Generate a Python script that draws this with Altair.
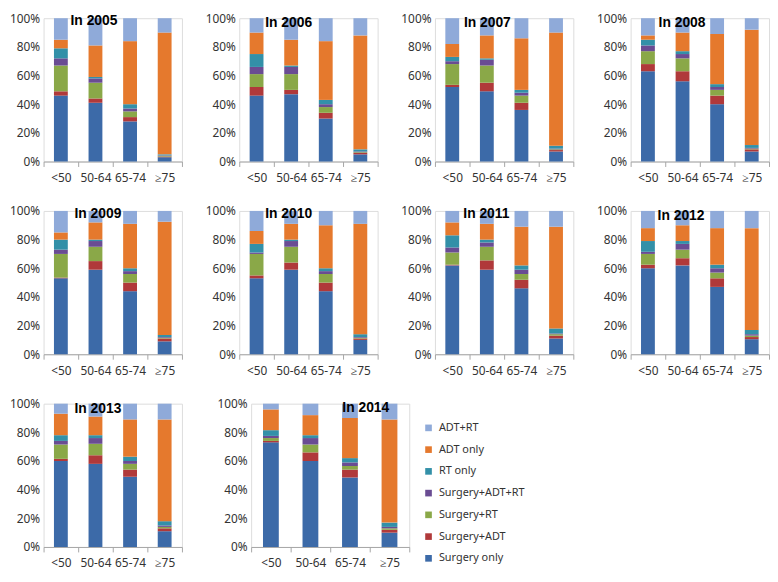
import altair as alt
import pandas as pd

ages = ["<50", "50-64", "65-74", "≥75"]
treatments = ["Surgery only", "Surgery+ADT", "Surgery+RT", "Surgery+ADT+RT",
              "RT only", "ADT only", "ADT+RT"]
colors = ["#3C6AA8", "#B0393A", "#8AA848", "#6A4C93", "#3390A8", "#E5792D", "#8FAAD9"]

years = [2005, 2006, 2007, 2008, 2009, 2010, 2011, 2012, 2013, 2014]

# percent per age group, in the order of `treatments`
pct_2005 = [[46, 3, 18, 5, 7, 6, 15], [41, 3, 11, 3, 1, 22, 19],
            [28, 3, 4, 2, 3, 44, 16], [3, 0.5, 0.5, 0.3, 0.7, 85, 10]]
pct_2006 = [[46, 6, 9, 5, 9, 15, 10], [47, 3, 11, 5, 1, 18, 15],
            [30, 4, 4, 2, 3, 41, 16], [5, 1, 0.5, 0.5, 1.5, 79.5, 12]]
pct_2007 = [[52, 1.5, 14.5, 2, 3, 9, 18], [49, 6, 12, 4, 1, 16, 12],
            [36, 5, 5, 2, 2, 36, 14], [7, 1, 0.5, 0.5, 2, 79, 10]]
pct_2008 = [[63, 5, 9, 4, 4, 3, 12], [56, 7, 9, 3, 2, 13, 10],
            [40, 6, 4, 2, 2, 35, 11], [7, 1.5, 0.5, 0.5, 2, 80.5, 8]]
pct_2009 = [[53, 0.5, 16.5, 3, 7, 5, 15], [59, 6, 10, 4, 1, 12, 8],
            [44, 6, 6, 2, 2, 31, 9], [9, 2, 0.5, 0.5, 1.5, 79, 7.5]]
pct_2010 = [[53, 2, 15, 1, 6, 9, 14], [59, 5, 11, 4, 1, 11, 9],
            [44, 6, 6, 2, 2, 30, 10], [10, 1, 0.5, 0.5, 2, 77, 9]]
pct_2011 = [[62, 0.5, 8.5, 3.5, 8.5, 9, 8], [59, 6.5, 9.5, 3, 2, 11, 9],
            [46, 6, 4, 3, 3, 27, 11], [11, 2, 1, 0.5, 3.5, 71, 11]]
pct_2012 = [[60, 2.5, 7.5, 1.5, 7.5, 9, 12], [62, 5, 6, 4, 2, 11, 10],
            [47, 6, 4, 3, 2.5, 25.5, 12], [10.5, 1.5, 1, 1, 3, 71, 12]]
pct_2013 = [[60, 1.5, 10, 2.5, 4, 15, 7], [58, 6, 8, 4, 2, 13, 9],
            [49, 5, 4, 2, 3, 26, 11], [11, 2, 1, 1, 3, 71, 11]]
pct_2014 = [[73, 1, 2, 1.5, 4, 14.5, 4], [60, 6, 5.5, 4.5, 2, 14, 8],
            [48.5, 5.5, 2.5, 2.5, 3, 28, 10], [10, 2, 1, 1, 3, 72, 11]]

all_pct = [pct_2005, pct_2006, pct_2007, pct_2008, pct_2009,
           pct_2010, pct_2011, pct_2012, pct_2013, pct_2014]

rows = []
for yr, pct in zip(years, all_pct):
    for age, vals in zip(ages, pct):
        for i, (t, v) in enumerate(zip(treatments, vals)):
            rows.append({"year": yr, "age": age, "treatment": t,
                         "order": i, "share": v / 100.0})
df = pd.DataFrame(rows)

legend_domain = treatments[::-1]
legend_range = colors[::-1]

# title placement (pixels inside each panel), panel widths, bar widths
title_pos = {2005: (51, 3), 2006: (50, 5), 2007: (53, 5), 2008: (52, 5),
             2009: (55, 3), 2010: (50, 3), 2011: (52, 3), 2012: (51, 5),
             2013: (55, 5), 2014: (116, 4)}
panel_w = {2014: 160}
bar_w = {2014: 16}

FONT = "Noto Sans"
PH = 145


def panel(yr):
    w = panel_w.get(yr, 140)
    data = df[df["year"] == yr]
    bars = alt.Chart(data).mark_bar(size=bar_w.get(yr, 14)).encode(
        x=alt.X("age:N", sort=ages,
                scale=alt.Scale(domain=ages, paddingInner=0, paddingOuter=0),
                axis=alt.Axis(title=None, labelAngle=0, tickBand="extent",
                              tickSize=5, labelPadding=6, domainColor="#A6A6A6",
                              tickColor="#A6A6A6", labelFont=FONT,
                              labelFontSize=12, labelColor="#333333",
                              grid=False)),
        y=alt.Y("share:Q", stack="zero", scale=alt.Scale(domain=[0, 1]),
                axis=alt.Axis(title=None, format="%",
                              values=[0, 0.2, 0.4, 0.6, 0.8, 1.0],
                              domain=False, ticks=False, grid=False,
                              labelFont=FONT, labelFontSize=12,
                              labelColor="#333333", labelPadding=4)),
        color=alt.Color("treatment:N",
                        scale=alt.Scale(domain=legend_domain, range=legend_range),
                        legend=alt.Legend(title=None, orient="none",
                                          legendX=384, legendY=409,
                                          symbolType="square", symbolSize=45,
                                          symbolStrokeWidth=0,
                                          labelFont=FONT, labelFontSize=11,
                                          labelColor="#333333", rowPadding=10,
                                          labelOffset=5, padding=0)),
        order=alt.Order("order:Q", sort="ascending"),
    )
    tx, ty = title_pos[yr]
    title = alt.Chart(pd.DataFrame({"label": [f"In {yr}"]})).mark_text(
        font="Liberation Sans", fontWeight="bold", fontSize=14,
        align="center", baseline="middle", color="#000000"
    ).encode(text="label:N", x=alt.value(tx), y=alt.value(ty))
    return alt.layer(bars, title).properties(width=w, height=PH)


row1 = alt.hconcat(*[panel(y) for y in years[0:4]], spacing=21)
row2 = alt.hconcat(*[panel(y) for y in years[4:8]], spacing=21)
row3 = alt.hconcat(*[panel(y) for y in years[8:10]], spacing=33)

chart = alt.vconcat(row1, row2, row3, spacing=20).properties(
    padding=0
).configure_view(strokeWidth=0).configure(background="white")

chart.save("out.html", embed_options={"renderer": "svg", "actions": False})
